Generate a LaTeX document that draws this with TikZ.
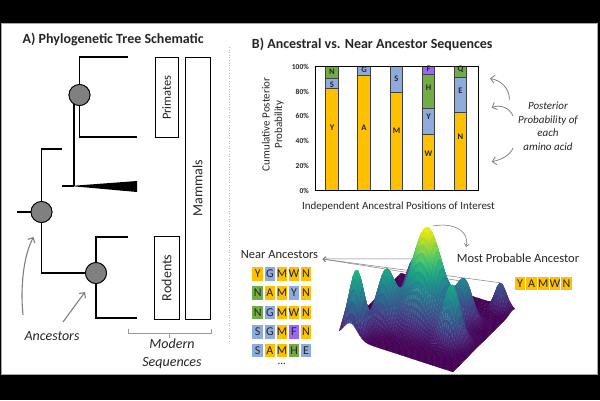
\documentclass[tikz,border=0pt]{standalone}
\usepackage{fontspec}
\setmainfont{Carlito}
\usepackage{pgfplots}
\pgfplotsset{compat=1.18}
\usetikzlibrary{arrows.meta}
\definecolor{aay}{HTML}{FFC000}
\definecolor{aab}{HTML}{8FAADC}
\definecolor{aag}{HTML}{70AD47}
\definecolor{aap}{HTML}{9966FF}
\definecolor{ancgray}{HTML}{808080}
\definecolor{arrgray}{HTML}{7F7F7F}
\definecolor{txt}{HTML}{262626}
\newcommand{\fsz}[2]{\fontsize{#1}{#2}\selectfont}
\newcommand{\mkseg}[4]{\path[barsegst, fill=#4] ({#1-6.25},{190.7-1.24*#2}) rectangle ({#1+6.25},{190.7-1.24*#3});}
\begin{document}
\begin{tikzpicture}[x=1pt,y=-1pt,
  treeline/.style={draw=black, line width=1.2pt},
  ancnode/.style={circle, fill=ancgray, draw=black, line width=0.8pt, minimum size=21pt, inner sep=0pt},
  cladebox/.style={draw=black, line width=0.9pt, inner sep=0pt, text=txt, rotate=90},
  garrow/.style={draw=arrgray, line width=1.1pt, -{Straight Barb[length=4pt,width=8pt]}},
  thinarrow/.style={draw=arrgray, line width=0.6pt, -{Straight Barb[length=3pt,width=5pt]}},
  aabox/.style={inner sep=0pt, minimum width=10.5pt, minimum height=13.5pt, text=txt, font=\fsz{12}{12}},
  barsegst/.style={draw=black!75, line width=0.6pt},
  barlbl/.style={font=\bfseries\fsz{8.5}{8.5}, text=txt, inner sep=0pt},
  ticklbl/.style={font=\bfseries\fsz{7.5}{7.5}, text=txt, inner sep=0pt, anchor=east},
  ttl/.style={font=\bfseries\fsz{14}{16}, text=txt, anchor=base west, inner sep=0pt}
]
\useasboundingbox (0,0) rectangle (600,400);
\fill[black] (0,0) rectangle (600,400);
\fill[white] (1,23.5) rectangle (597.5,374.5);
\draw[gray!70, line width=0.7pt] (1,23.5) rectangle (597.5,374.5);

% ---------- Panel A ----------
\node[ttl] (titleA) at (22.5,43.3) {A) Phylogenetic Tree Schematic};

\coordinate (rootstub) at (17,212);
\coordinate (j1) at (62,149);
\coordinate (wbase) at (74,186);
\coordinate (p1) at (128,57);
\coordinate (p2) at (137,137);
\coordinate (q1) at (128,237);
\coordinate (q2) at (137,318);
\node[ancnode] (r) at (41.5,212) {};
\node[ancnode] (u) at (79.5,95) {};
\node[ancnode] (d) at (96,273) {};
\draw[treeline] (rootstub) -- (r);
\draw[treeline] (r) |- (j1);
\draw[treeline] (u) -| (wbase);
\draw[treeline] (62,186) -- (wbase);
\draw[treeline] (u) |- (p1);
\draw[treeline] (u) |- (p2);
\draw[treeline] (r) |- (d);
\draw[treeline] (d) |- (q1);
\draw[treeline] (d) |- (q2);
\fill[black] (70,186) -- (137,181) -- (137,192) -- cycle;
\node[ancnode] at (r) {};
\node[ancnode] at (u) {};
\node[ancnode] at (d) {};

\node[cladebox, minimum width=79.6pt, minimum height=23pt, font=\fsz{12.5}{12.5}] (primates) at (166.5,97.5) {Primates};
\node[cladebox, minimum width=82.3pt, minimum height=25pt, font=\fsz{14}{14}] (rodents) at (166.5,277.8) {Rodents};
\node[cladebox, minimum width=261.3pt, minimum height=25pt, font=\fsz{14}{14}] (mammals) at (197.5,188.3) {Mammals};

\draw[arrgray!80, line width=0.8pt] (128,328.5) -- (128,333) -- (211,333) -- (211,328.5);
\draw[arrgray!80, line width=0.8pt] (169.5,333) -- (169.5,337.5);
\node[font=\itshape\fsz{14}{18}, align=center, text=txt] (modern) at (172,354) {Modern\\Sequences};
\node[font=\itshape\fsz{14}{16}, text=txt] (ancestors) at (52,336) {Ancestors};

\coordinate (a1s) at (23,315);
\coordinate (a1e) at (33.5,237);
\coordinate (a2s) at (63,322);
\coordinate (a2e) at (85,292);
\draw[garrow] (a1s) .. controls (20,285) and (24,255) .. (a1e);
\draw[garrow] (a2s) -- (a2e);

\draw[gray!55, line width=0.6pt, dotted] (229.5,47) -- (229.5,342);

% ---------- Panel B ----------
\node[ttl] (titleB) at (251.7,48.3) {B) Ancestral vs. Near Ancestor Sequences};

% bars
\mkseg{332}{0}{82.6}{aay}
\mkseg{332}{82.6}{91}{aab}
\mkseg{332}{91}{100}{aag}
\mkseg{364}{0}{92.7}{aay}
\mkseg{364}{92.7}{100}{aab}
\mkseg{396.5}{0}{79}{aay}
\mkseg{396.5}{79}{100}{aab}
\mkseg{428.5}{0}{45.5}{aay}
\mkseg{428.5}{45.5}{66.4}{aab}
\mkseg{428.5}{66.4}{94}{aag}
\mkseg{428.5}{94}{100}{aap}
\mkseg{460.5}{0}{63}{aay}
\mkseg{460.5}{63}{91.7}{aab}
\mkseg{460.5}{91.7}{100}{aag}
\node[draw=black, line width=1.5pt, minimum width=163pt, minimum height=124pt, inner sep=0pt] (plotframe) at (397.2,128.7) {};

\node[barlbl] (l1a) at (332,127.7) {Y};
\node[barlbl] (l1b) at (332,84.3) {S};
\node[barlbl] (l1c) at (332,71.7) {N};
\node[barlbl] (l2a) at (364,127.7) {A};
\node[barlbl] (l2b) at (364,70) {G};
\node[barlbl] (l3a) at (396.5,131) {M};
\node[barlbl] (l3b) at (396.5,78.3) {S};
\node[barlbl] (l4a) at (428.5,154) {W};
\node[barlbl] (l4b) at (428.5,116.7) {Y};
\node[barlbl] (l4c) at (428.5,88) {H};
\node[barlbl] (l4d) at (428.5,68.5) {F};
\node[barlbl] (l5a) at (460.5,136.7) {N};
\node[barlbl] (l5b) at (460.5,91) {E};
\node[barlbl] (l5c) at (460.5,69.5) {Q};

\foreach \p in {0,20,...,100} {
  \node[ticklbl] (tick\p) at (309,{190.7-1.24*\p}) {\p\%};
}
\node[rotate=90, align=center, font=\fsz{11}{12.5}, text=txt] (ylab) at (273,124.5) {Cumulative Posterior\\Probability};
\node[font=\fsz{11}{12}, text=txt] (xlab) at (398.5,206.7) {Independent Ancestral Positions of Interest};

\node[align=center, font=\itshape\fsz{11}{13.5}, text=txt] (pptext) at (548,126.3) {Posterior\\Probability of\\each\\amino acid};
\coordinate (b1s) at (509.3,100);
\coordinate (b1e) at (490,78.5);
\coordinate (b2s) at (513,116);
\coordinate (b2e) at (491.7,107.7);
\coordinate (b3s) at (513,148);
\coordinate (b3e) at (491.7,161.7);
\draw[garrow, line width=0.8pt] (b1s) .. controls (510,88) and (500,80) .. (b1e);
\draw[garrow, line width=0.8pt] (b2s) .. controls (510,108) and (500,104) .. (b2e);
\draw[garrow, line width=0.8pt] (b3s) .. controls (510,156) and (500,160) .. (b3e);

% near ancestors
\node[font=\fsz{12.5}{12.5}, text=txt] (nearlbl) at (279.5,255) {Near Ancestors};
\coordinate (nahead) at (322.5,259);
\coordinate (pk4) at (414,258.8);
\coordinate (pk6) at (464.8,281.6);
\coordinate (pk7) at (500.5,282.8);
\draw[thinarrow, line width=0.5pt] (pk4) -- (nahead);
\draw[thinarrow, line width=0.5pt] (pk6) -- (nahead);
\draw[thinarrow, line width=0.5pt] (pk7) -- (nahead);

\foreach \r/\yy/\row in {1/274/{Y/aay,G/aab,M/aay,W/aay,N/aay},
                         2/293/{N/aag,A/aay,M/aay,Y/aab,N/aay},
                         3/312.5/{N/aag,G/aab,M/aay,W/aay,N/aay},
                         4/332/{S/aab,G/aab,M/aay,F/aap,N/aay},
                         5/350.5/{S/aab,A/aay,M/aay,H/aag,E/aab}} {
  \foreach \lt/\cl [count=\c from 0] in \row {
    \node[aabox, fill=\cl] (g-\r-\c) at ({257.7+12.1*\c},\yy) {\lt};
  }
}
\node[font=\fsz{11}{11}, text=txt] (dots) at (281.7,364) {...};

% surface
\coordinate (sorigin) at (339,335);
\begin{axis}[at={(sorigin)}, anchor=origin, hide axis, clip=false,
  x={(114pt,-37pt)}, y={(62pt,62pt)}, z={(0pt,95pt)},
  xmin=0, xmax=1, ymin=0, ymax=1, zmin=0, zmax=1,
  colormap/viridis, point meta min=0, point meta max=1]
\addplot3[surf, shader=faceted, faceted color=mapped color, line width=0.15pt, z buffer=sort,
  domain=0:1, y domain=0:1, samples=56]
 {1.0*exp(-((x-0.5)^2+(y-0.5)^2)/0.0288)
 +0.66*exp(-((x-0.1)^2+(y-0.1)^2)/0.0072)
 +0.57*exp(-((x-0.25)^2+(y-0.3)^2)/0.0098)
 +0.40*exp(-((x-0.25)^2+(y-0.75)^2)/0.0072)
 +0.59*exp(-((x-0.8)^2+(y-0.35)^2)/0.00845)
 +0.41*exp(-((x-0.75)^2+(y-0.65)^2)/0.0072)
 +0.28*exp(-((x-0.9)^2+(y-0.95)^2)/0.00405)};
\end{axis}

\coordinate (mpatail) at (433,226);
\coordinate (mpahead) at (466,247);
\draw[thinarrow] (mpatail) .. controls (455,222) and (470,232) .. (mpahead);
\node[font=\fsz{12.5}{12.5}, text=txt] (mpalbl) at (518,258.3) {Most Probable Ancestor};
\foreach \lt [count=\c from 0] in {Y,A,M,W,N} {
  \node[aabox, fill=aay, minimum height=13.3pt] (m-\c) at ({520.1+11.6*\c},283.3) {\lt};
}
\end{tikzpicture}
\end{document}
